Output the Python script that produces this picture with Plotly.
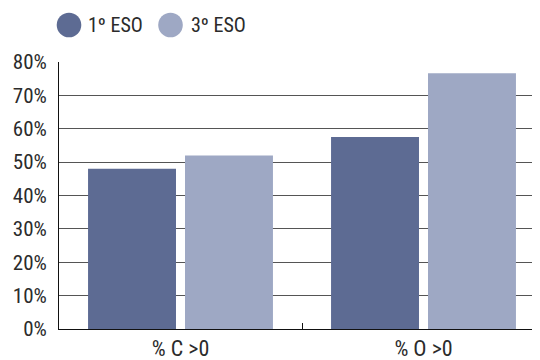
import plotly.graph_objects as go

categories = ["% C >0", "% O >0"]
series_names = ["1º ESO", "3º ESO"]
values_1eso = [48, 57.5]
values_3eso = [52, 76.6]
y_tick_vals = [0, 10, 20, 30, 40, 50, 60, 70, 80]
y_tick_text = ["0%", "10%", "20%", "30%", "40%", "50%", "60%", "70%", "80%"]

dark = "#5d6b93"
light = "#9ea8c4"
text_col = "#2b2b2b"
FONT = "Roboto Condensed, Liberation Sans, sans-serif"

OFF = 8  # default page body margin
W, H = 540 - OFF, 360 - OFF
# plot area in page pixels: x 59..540, y 62..329
ML = 59 - OFF
MR = 0
MT = 62 - OFF
MB = (360 - OFF) - (329 - OFF)
PW = W - ML - MR
PH = H - MT - MB

def px_x(px):
    return (px - 59) / PW

def px_y(py):
    return (329 - py) / PH

fig = go.Figure()
fig.add_trace(go.Bar(x=categories, y=values_1eso, name=series_names[0],
                     marker=dict(color=dark, line=dict(width=0)), showlegend=False))
fig.add_trace(go.Bar(x=categories, y=values_3eso, name=series_names[1],
                     marker=dict(color=light, line=dict(width=0)), showlegend=False))

unit = 243.0
fig.update_layout(
    width=W, height=H,
    margin=dict(l=ML, r=MR, t=MT, b=MB, pad=0),
    paper_bgcolor="white", plot_bgcolor="white",
    barmode="group", bargap=0.202, bargroupgap=0.093,
    font=dict(family=FONT, color=text_col),
    xaxis=dict(
        type="category", automargin=False,
        range=[-0.5, -0.5 + PW / unit],
        showline=True, linecolor="#111", linewidth=1,
        ticks="inside", tickson="boundaries", ticklen=6, tickcolor="#111",
        tickfont=dict(size=22, family=FONT, color=text_col),
        showgrid=False, zeroline=False,
    ),
    yaxis=dict(
        automargin=False,
        range=[0, 80], tickvals=y_tick_vals, ticktext=y_tick_text,
        showline=True, linecolor="#111", linewidth=1,
        showgrid=True, gridcolor="#555", gridwidth=1,
        zeroline=False, ticks="",
        tickfont=dict(size=21, family=FONT, color=text_col),
        ticklabelstandoff=7,
    ),
    showlegend=False,
)

# legend drawn manually (circle markers), page pixel positions
legend_items = [(69, 86, dark, series_names[0]), (170.5, 189, light, series_names[1])]
shapes = []
annotations = []
for cx, tx, col, label in legend_items:
    r = 12.3
    cy = 25
    shapes.append(dict(type="circle", xref="paper", yref="paper",
                       x0=px_x(cx - r), x1=px_x(cx + r),
                       y0=px_y(cy + r), y1=px_y(cy - r),
                       fillcolor=col, line=dict(width=0)))
    annotations.append(dict(text=label, xref="paper", yref="paper",
                            x=px_x(tx), y=px_y(cy), xanchor="left", yanchor="middle",
                            showarrow=False, font=dict(size=20, family=FONT, color=text_col)))
fig.update_layout(shapes=shapes, annotations=annotations)

fig.write_html("out.html")
